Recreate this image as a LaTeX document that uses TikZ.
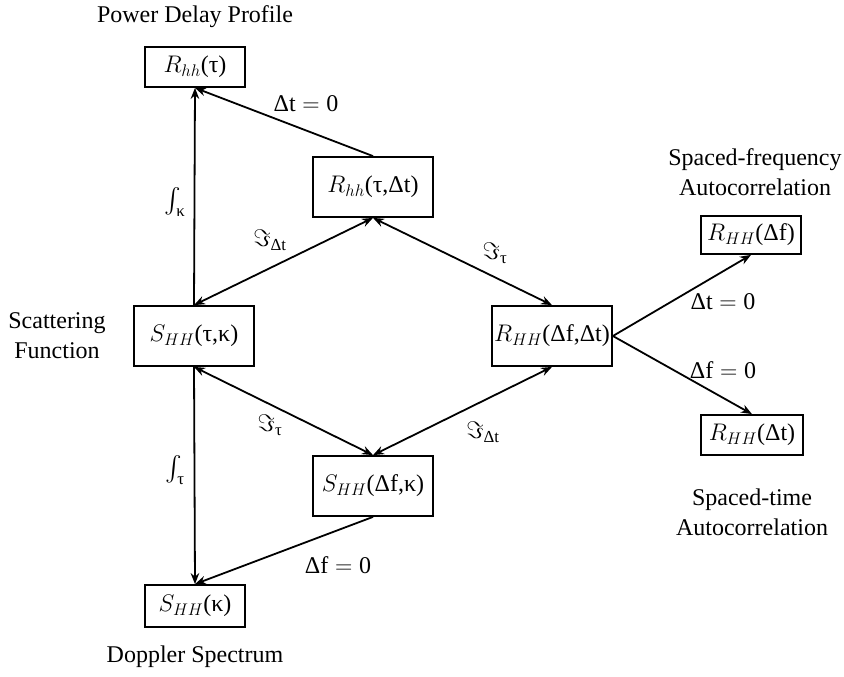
\RequirePackage{fix-cm}
\documentclass[tikz,border=0pt]{standalone}
\usepackage{amsmath}
\usepackage{fontspec}
\setmainfont{Liberation Serif}
\usetikzlibrary{arrows.meta}
\begin{document}
\begin{tikzpicture}[x=1pt,y=-1pt,
  every node/.style={font=\fontsize{24}{30}\selectfont},
  box/.style={draw, line width=1.8pt, inner xsep=2pt, inner ysep=2pt},
  big/.style={box, minimum height=60pt, minimum width=120pt},
  small/.style={box, minimum height=40pt, minimum width=100pt},
  lbl/.style={align=center},
  tip/.tip={Stealth[length=11pt,width=8.5pt]},
  conn/.style={line width=1.8pt, -tip},
  dconn/.style={line width=1.8pt, tip-tip},
]
\useasboundingbox (0,0) rectangle (844,677);
% boxes
\node[small] (pdp) at (195,67) {$R_{hh}$(τ)};
\node[big] (rht) at (373,187) {$R_{hh}$(τ,Δt)};
\node[big] (stk) at (194,336) {$S_{HH}$(τ,κ)};
\node[big] (rft) at (552,336) {$R_{HH}$(Δf,Δt)};
\node[big] (sfk) at (373,486) {$S_{HH}$(Δf,κ)};
\node[small, minimum height=42pt] (sk) at (195,606) {$S_{HH}$(κ)};
\node[small, minimum height=38pt] (rf) at (751,235) {$R_{HH}$(Δf)};
\node[small, minimum width=102pt] (rt) at (752,435) {$R_{HH}$(Δt)};
% captions
\node[lbl] (cap1) at (195,17) {Power Delay Profile};
\node[lbl] (cap2) at (755,172) {Spaced-frequency\\Autocorrelation};
\node[lbl] (cap3) at (752,512) {Spaced-time\\Autocorrelation};
\node[lbl] (cap4) at (57,336) {Scattering\\Function};
\node[lbl] (cap5) at (195,657) {Doppler Spectrum};
% connectors
\draw[conn] (stk.north) -- (pdp.south);
\draw[conn] (rht.north) -- (pdp.south);
\draw[dconn] (rht.south) -- (stk.north);
\draw[dconn] (rht.south) -- (rft.north);
\draw[dconn] (stk.south) -- (sfk.north);
\draw[dconn] (sfk.north) -- (rft.south);
\draw[conn] (stk.south) -- (sk.north);
\draw[conn] (sfk.south) -- (sk.north);
\draw[conn] (rft.east) -- (rf.south);
\draw[conn] (rft.east) -- (rt.north);
% edge labels
\node (l1) at (306,104) {Δt${}={}$0};
\node (l2) at (175,202) {$\int_{\text{κ}}$};
\node (l3) at (270,240) {$\Im_{\text{Δt}}$};
\node (l4) at (495,253) {$\Im_{\text{τ}}$};
\node (l5) at (270,425) {$\Im_{\text{τ}}$};
\node (l6) at (483,432) {$\Im_{\text{Δt}}$};
\node (l7) at (175,470) {$\int_{\text{τ}}$};
\node (l8) at (338,565) {Δf${}={}$0};
\node (l9) at (723,302) {Δt${}={}$0};
\node (l10) at (723,370) {Δf${}={}$0};
\end{tikzpicture}
\end{document}
